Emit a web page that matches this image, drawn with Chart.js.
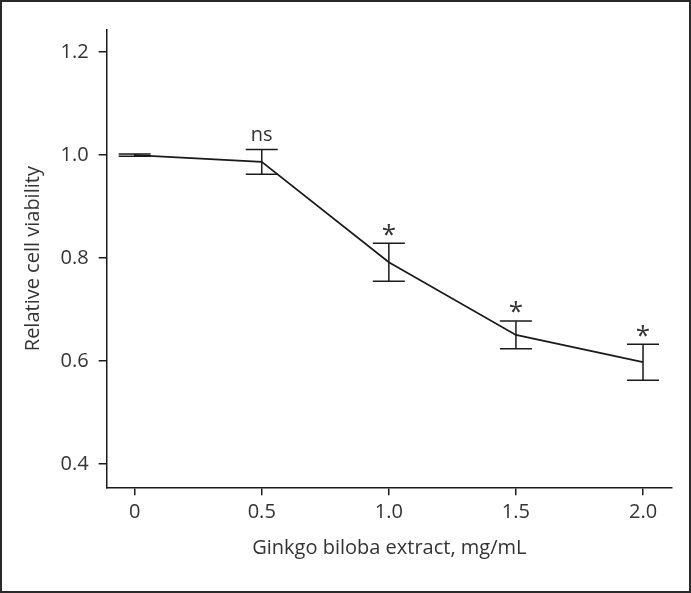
<!DOCTYPE html>
<html>
<head>
<meta charset="utf-8">
<script src="https://cdn.jsdelivr.net/npm/chart.js@4"></script>
<style>
  body { margin: 0; background: #fff; }
  .frame { width: 691px; height: 593px; box-sizing: border-box; border: 2px solid #2a2a2a; background: #fff; }
  canvas { display: block; }
</style>
</head>
<body>
<div class="frame"><canvas id="chart" width="687" height="589"></canvas></div>
<script>
// values
const doses = [0, 0.5, 1.0, 1.5, 2.0]
const viability = [1.0, 0.987, 0.792, 0.651, 0.598]
const errors = [0.002, 0.024, 0.037, 0.027, 0.035]
const marks = ['', 'ns', '*', '*', '*']
const xTicks = [0, 0.5, 1.0, 1.5, 2.0]
const xTickLabels = ['0', '0.5', '1.0', '1.5', '2.0']
const yTicks = [0.4, 0.6, 0.8, 1.0, 1.2]

const ink = '#1a1a1a'
const textColor = '#333'
const fontFamily = "'Open Sans', 'Noto Sans', sans-serif"

// error bars + significance marks
const errorBars = {
  id: 'errorBars',
  afterDatasetsDraw(chart) {
    const { ctx, scales: { x, y } } = chart
    ctx.save()
    ctx.strokeStyle = ink
    ctx.lineWidth = 1.5
    ctx.fillStyle = textColor
    ctx.textAlign = 'center'
    doses.forEach((d, i) => {
      const px = x.getPixelForValue(d)
      const top = y.getPixelForValue(viability[i] + errors[i])
      const bot = y.getPixelForValue(viability[i] - errors[i])
      ctx.beginPath()
      ctx.moveTo(px, top); ctx.lineTo(px, bot)
      ctx.moveTo(px - 16, top); ctx.lineTo(px + 16, top)
      ctx.moveTo(px - 16, bot); ctx.lineTo(px + 16, bot)
      ctx.stroke()
      if (marks[i] === 'ns') {
        ctx.font = '20px ' + fontFamily
        ctx.textBaseline = 'alphabetic'
        ctx.fillText(marks[i], px, top - 8)
      } else if (marks[i]) {
        ctx.font = '26px ' + fontFamily
        ctx.textBaseline = 'middle'
        ctx.fillText(marks[i], px, top - 8)
      }
    })
    ctx.restore()
  }
}

new Chart(document.getElementById('chart'), {
  type: 'line',
  data: {
    datasets: [
      {
        data: doses.map((d, i) => ({ x: d, y: viability[i] })),
        borderColor: ink,
        borderWidth: 1.7,
        pointRadius: 0,
        tension: 0,
        fill: false,
      },
    ],
  },
  options: {
    responsive: false,
    animation: false,
    layout: { padding: { top: 28, right: 17, left: 0, bottom: 0 } },
    plugins: { legend: { display: false }, tooltip: { enabled: false } },
    scales: {
      x: {
        type: 'linear',
        min: -0.11,
        max: 2.114,
        afterBuildTicks: (s) => { s.ticks = xTicks.map((v) => ({ value: v })) },
        afterFit: (s) => { s.height = 103.7 },
        ticks: {
          color: textColor,
          font: { family: fontFamily, size: 20 },
          padding: 5,
          callback: (v) => xTickLabels[xTicks.indexOf(v)],
        },
        grid: { display: true, drawOnChartArea: false, drawTicks: true, tickLength: 8, color: ink, lineWidth: 1.5 },
        border: { display: true, color: ink, width: 1.5 },
        title: {
          display: true,
          text: 'Ginkgo biloba extract, mg/mL',
          color: textColor,
          font: { family: fontFamily, size: 20 },
          padding: { top: 0, bottom: 31 },
        },
      },
      y: {
        type: 'linear',
        min: 0.355,
        max: 1.243,
        afterBuildTicks: (s) => { s.ticks = yTicks.map((v) => ({ value: v })) },
        afterFit: (s) => { s.width = 104.7 },
        ticks: {
          color: textColor,
          font: { family: fontFamily, size: 20 },
          padding: 10,
          callback: (v) => v.toFixed(1),
        },
        grid: { display: true, drawOnChartArea: false, drawTicks: true, tickLength: 8, color: ink, lineWidth: 1.5 },
        border: { display: true, color: ink, width: 1.5 },
        title: {
          display: true,
          text: 'Relative cell viability',
          color: textColor,
          font: { family: fontFamily, size: 20 },
          padding: { top: 19, bottom: 0 },
        },
      },
    },
  },
  plugins: [errorBars],
})
</script>
</body>
</html>
